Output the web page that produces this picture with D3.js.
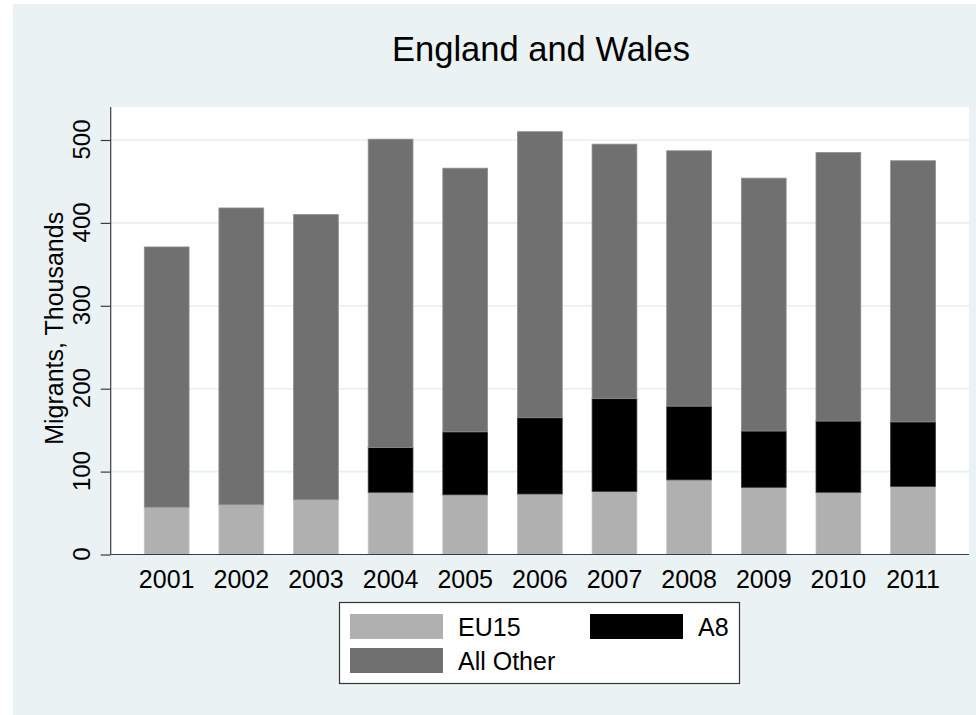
<!DOCTYPE html>
<html>
<head>
<meta charset="utf-8">
<script src="https://cdn.jsdelivr.net/npm/d3@7"></script>
<style>
  html, body { margin: 0; padding: 0; background: #ffffff; }
  svg { display: block; font-family: "Liberation Sans", Arial, sans-serif; }
</style>
</head>
<body>
<svg id="chart" width="976" height="715"></svg>
<script>
const years = ["2001","2002","2003","2004","2005","2006","2007","2008","2009","2010","2011"];
const eu15 = [57, 60, 66, 75, 72, 73, 76, 90, 81, 75, 82];
const a8 = [0, 0, 0, 54, 76, 92, 112, 89, 68, 86, 78];
const allOther = [314, 358, 344, 372, 318, 345, 307, 308, 305, 324, 315];
const yTicks = [0, 100, 200, 300, 400, 500];
const seriesNames = ["EU15", "A8", "All Other"];

const svg = d3.select("#chart");
const W = 976, H = 715;
const bg = "#eaf2f3";

// background
svg.append("rect").attr("x", 13).attr("y", 4).attr("width", W - 13).attr("height", H - 4).attr("fill", bg);

const plotL = 110.7, plotR = 969, plotT = 107, plotB = 554.5;
svg.append("rect").attr("x", plotL).attr("y", plotT).attr("width", plotR - plotL).attr("height", plotB - plotT).attr("fill", "#ffffff");

const x = d3.scaleBand().domain(years).range([plotL, plotR]).paddingInner(0.4).paddingOuter(0.45);
const y = d3.scaleLinear().domain([0, 500]).range([plotB, 140]);

// gridlines
svg.append("g").selectAll("line").data(yTicks.filter(d => d > 0)).join("line")
  .attr("x1", plotL).attr("x2", plotR)
  .attr("y1", d => y(d)).attr("y2", d => y(d))
  .attr("stroke", "#e6eff2").attr("stroke-width", 1.6);

// stacked data
const rows = years.map((yr, i) => ({year: yr, "EU15": eu15[i], "A8": a8[i], "All Other": allOther[i]}));
const stack = d3.stack().keys(seriesNames)(rows);
const fills = {"EU15": "#b0b0b0", "A8": "#000000", "All Other": "#707070"};
const strokes = {"EU15": "#c4c4c4", "A8": "#3a3a3a", "All Other": "#8e8e8e"};

svg.append("g").selectAll("g").data(stack).join("g")
  .attr("fill", d => fills[d.key])
  .attr("stroke", d => strokes[d.key])
  .attr("stroke-width", 0.8)
  .selectAll("rect").data(d => d.filter(s => s[1] - s[0] > 0)).join("rect")
  .attr("x", d => x(d.data.year))
  .attr("width", x.bandwidth())
  .attr("y", d => y(d[1]))
  .attr("height", d => y(d[0]) - y(d[1]));

// y axis
const yAxis = d3.axisLeft(y).tickValues(yTicks).tickSize(10).tickPadding(5);
const gy = svg.append("g").attr("transform", `translate(${plotL},0)`).call(yAxis);
gy.select(".domain").attr("stroke", "#3c3c3c").attr("stroke-width", 1.2).attr("d", `M0,${plotT}V${plotB}`);
gy.selectAll(".tick line").attr("stroke", "#3c3c3c").attr("stroke-width", 1.2);
gy.selectAll(".tick text")
  .attr("font-size", 24).attr("fill", "#000")
  .attr("font-family", "'Liberation Sans', Arial, sans-serif")
  .attr("text-anchor", "middle")
  .attr("dy", null)
  .attr("x", null)
  .attr("transform", "translate(-20.5,-1) rotate(-90)");

// x axis
const xAxis = d3.axisBottom(x).tickSize(0).tickPadding(0);
const gx = svg.append("g").attr("transform", `translate(0,${plotB})`).call(xAxis);
gx.select(".domain").attr("stroke", "#3c3c3c").attr("stroke-width", 1.2).attr("d", `M${plotL},0H${plotR}`);
gx.selectAll(".tick text")
  .attr("font-size", 25).attr("fill", "#000")
  .attr("font-family", "'Liberation Sans', Arial, sans-serif")
  .attr("dy", null).attr("y", 33);

// y axis title
svg.append("text")
  .attr("transform", `translate(63,${(211.7 + 445) / 2}) rotate(-90)`)
  .attr("text-anchor", "middle")
  .attr("font-size", 25).attr("fill", "#000")
  .text("Migrants, Thousands");

// title
svg.append("text")
  .attr("x", 541).attr("y", 61)
  .attr("text-anchor", "middle")
  .attr("font-size", 34.5).attr("fill", "#000")
  .text("England and Wales");

// legend
const lg = svg.append("g");
lg.append("rect").attr("x", 339.5).attr("y", 602.5).attr("width", 400).attr("height", 81)
  .attr("fill", "#fff").attr("stroke", "#333").attr("stroke-width", 1.2);
const legendItems = [
  {name: "EU15", sx: 350, sy: 614, tx: 458},
  {name: "A8", sx: 590, sy: 614, tx: 698},
  {name: "All Other", sx: 350, sy: 648, tx: 458}
];
lg.selectAll("rect.sw").data(legendItems).join("rect").attr("class", "sw")
  .attr("x", d => d.sx).attr("y", d => d.sy).attr("width", 93).attr("height", 25)
  .attr("fill", d => fills[d.name]);
lg.selectAll("text").data(legendItems).join("text")
  .attr("x", d => d.tx).attr("y", d => d.sy + 21.5)
  .attr("font-size", 25).attr("fill", "#000")
  .text(d => d.name);
</script>
</body>
</html>
